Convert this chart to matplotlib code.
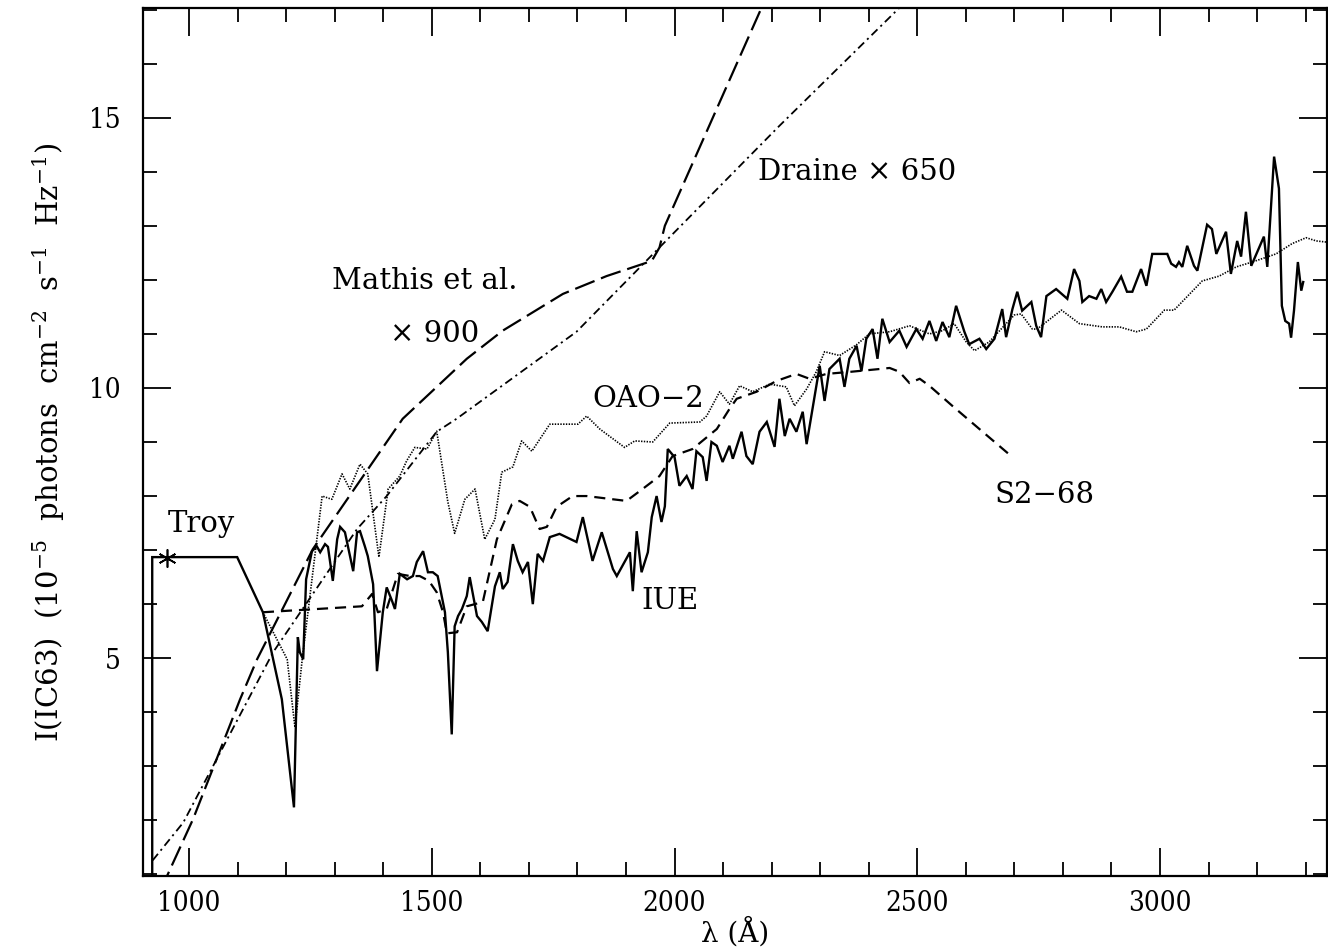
import matplotlib
matplotlib.use("Agg")
import matplotlib.pyplot as plt
from matplotlib.ticker import MultipleLocator

# ---------------- data ----------------
# IUE spectrum (solid) including the Troy plateau on the short-wavelength side
iue_wl = [924, 924, 1099, 1152, 1191, 1216, 1224, 1228, 1235, 1241, 1253, 1263, 1270,
          1280, 1286, 1296, 1305, 1311, 1321, 1338, 1346, 1352, 1362, 1368, 1379, 1387,
          1399, 1407, 1418, 1424, 1434, 1449, 1461, 1469, 1482, 1492, 1502, 1512, 1527,
          1533, 1541, 1547, 1554, 1562, 1572, 1578, 1593, 1603, 1615, 1630, 1640, 1646,
          1656, 1667, 1677, 1687, 1698, 1708, 1718, 1729, 1743, 1763, 1798, 1811, 1831,
          1850, 1873, 1881, 1908, 1914, 1922, 1932, 1945, 1953, 1963, 1973, 1980, 1986,
          2000, 2010, 2025, 2037, 2045, 2058, 2066, 2076, 2087, 2099, 2113, 2120, 2138,
          2148, 2161, 2175, 2190, 2206, 2216, 2227, 2237, 2251, 2264, 2272, 2284, 2299,
          2309, 2319, 2340, 2350, 2360, 2375, 2385, 2395, 2408, 2418, 2428, 2443, 2463,
          2478, 2498, 2511, 2525, 2539, 2552, 2566, 2580, 2597, 2607, 2628, 2642, 2659,
          2675, 2683, 2696, 2706, 2716, 2735, 2745, 2755, 2766, 2786, 2809, 2823, 2834,
          2840, 2854, 2869, 2879, 2889, 2902, 2920, 2932, 2943, 2961, 2972, 2984, 3015,
          3023, 3033, 3039, 3046, 3056, 3070, 3077, 3097, 3107, 3116, 3136, 3146, 3159,
          3167, 3177, 3188, 3214, 3221, 3235, 3245, 3251, 3258, 3266, 3270, 3276, 3284,
          3291, 3295]
iue_I = [0.5, 6.87, 6.87, 5.85, 4.24, 2.24, 5.39, 5.11, 4.98, 6.46, 6.98, 7.07, 6.96,
         7.11, 7.06, 6.43, 7.20, 7.43, 7.33, 6.61, 7.33, 7.35, 7.07, 6.89, 6.37, 4.76,
         5.85, 6.31, 6.06, 5.91, 6.56, 6.46, 6.52, 6.78, 6.98, 6.59, 6.59, 6.52, 5.85,
         5.11, 3.59, 5.59, 5.78, 5.91, 6.15, 6.50, 5.78, 5.67, 5.50, 6.33, 6.59, 6.28,
         6.41, 7.11, 6.80, 6.59, 6.78, 6.00, 6.93, 6.80, 7.24, 7.30, 7.15, 7.61, 6.80,
         7.33, 6.65, 6.52, 6.96, 6.24, 7.35, 6.59, 6.96, 7.61, 8.00, 7.52, 7.81, 8.87,
         8.72, 8.19, 8.37, 8.13, 8.83, 8.72, 8.28, 9.00, 8.93, 8.63, 8.93, 8.69, 9.19,
         8.74, 8.59, 9.19, 9.37, 8.91, 9.80, 9.11, 9.43, 9.19, 9.56, 8.96, 9.61, 10.41,
         9.76, 10.35, 10.54, 10.02, 10.54, 10.78, 10.31, 10.91, 11.09, 10.54, 11.28, 10.85, 11.06,
         10.76, 11.09, 10.91, 11.24, 10.87, 11.22, 10.94, 11.52, 11.04, 10.81, 10.91, 10.72, 10.91,
         11.46, 10.94, 11.46, 11.78, 11.43, 11.59, 11.15, 10.94, 11.70, 11.83, 11.65, 12.20, 11.98,
         11.59, 11.70, 11.65, 11.83, 11.59, 11.78, 12.06, 11.78, 11.78, 12.20, 11.89, 12.48, 12.48,
         12.30, 12.24, 12.33, 12.24, 12.63, 12.26, 12.17, 13.02, 12.94, 12.48, 12.89, 12.11, 12.72,
         12.43, 13.26, 12.26, 12.80, 12.24, 14.28, 13.69, 11.52, 11.24, 11.19, 10.93, 11.43, 12.33,
         11.80, 11.96]

# OAO-2 spectrum (dotted)
oao_wl = [1152, 1202, 1218, 1233, 1274, 1294, 1315, 1331, 1352, 1368, 1391, 1410, 1434,
          1448, 1465, 1490, 1510, 1533, 1547, 1568, 1589, 1609, 1630, 1644, 1667, 1685,
          1706, 1743, 1801, 1819, 1846, 1897, 1918, 1955, 1990, 2052, 2066, 2093, 2113,
          2134, 2161, 2196, 2230, 2247, 2272, 2292, 2309, 2340, 2375, 2401, 2443, 2484,
          2525, 2552, 2576, 2601, 2618, 2648, 2683, 2700, 2714, 2737, 2747, 2797, 2834,
          2881, 2916, 2951, 2972, 3009, 3029, 3087, 3122, 3157, 3190, 3239, 3272, 3301,
          3322, 3342]
oao_I = [5.85, 4.98, 3.72, 4.98, 8.00, 7.94, 8.41, 8.13, 8.59, 8.41, 6.87, 8.13, 8.37,
         8.65, 8.90, 8.87, 9.20, 7.89, 7.31, 7.94, 8.13, 7.20, 7.57, 8.44, 8.54, 9.02,
         8.83, 9.33, 9.33, 9.48, 9.24, 8.90, 9.02, 9.00, 9.35, 9.37, 9.48, 9.93, 9.70,
         10.04, 9.93, 10.07, 10.02, 9.67, 9.98, 10.30, 10.67, 10.60, 10.80, 11.00, 11.04, 11.15,
         11.00, 11.06, 11.19, 10.85, 10.69, 10.85, 11.19, 11.35, 11.37, 11.09, 11.09, 11.44, 11.19,
         11.13, 11.13, 11.04, 11.09, 11.44, 11.44, 11.98, 12.07, 12.24, 12.33, 12.48, 12.67, 12.78,
         12.72, 12.70]

# S2-68 spectrum (short dashes)
s2_wl = [1152, 1356, 1377, 1389, 1407, 1430, 1455, 1475, 1494, 1510, 1523, 1531, 1552,
         1572, 1605, 1634, 1665, 1681, 1702, 1722, 1737, 1757, 1790, 1819, 1873, 1901,
         1934, 1969, 1996, 2037, 2087, 2113, 2128, 2169, 2210, 2251, 2278, 2313, 2364,
         2422, 2443, 2463, 2484, 2505, 2525, 2572, 2628, 2696]
s2_I = [5.85, 5.96, 6.19, 5.85, 5.91, 6.56, 6.52, 6.52, 6.43, 6.22, 5.85, 5.46, 5.48,
        5.96, 6.04, 7.20, 7.85, 7.91, 7.80, 7.39, 7.43, 7.80, 8.00, 8.00, 7.94, 7.91,
        8.13, 8.37, 8.74, 8.87, 9.24, 9.61, 9.80, 9.93, 10.13, 10.26, 10.17, 10.26, 10.30,
        10.35, 10.37, 10.30, 10.09, 10.17, 10.04, 9.67, 9.24, 8.72]

# Mathis et al. x 900 (long dashes)
mathis_wl = [940, 955, 1008, 1105, 1140, 1255, 1440, 1572, 1646, 1770, 1860, 1953,
             1969, 1980, 2175, 2195]
mathis_I = [0.70, 0.98, 2.02, 4.24, 4.98, 7.02, 9.43, 10.54, 11.06, 11.74, 12.07, 12.35,
            12.60, 13.00, 16.95, 17.35]

# Draine x 650 (dash-dot)
draine_wl = [925, 988, 1173, 1346, 1407, 1510, 1551, 1798, 1969, 2216, 2465]
draine_I = [1.26, 1.96, 5.11, 7.39, 8.00, 9.19, 9.43, 11.04, 12.60, 14.85, 17.05]

# Troy point
troy_wl = [955]
troy_I = [6.85]

# axes
x_range = [905, 3344]
y_range = [0.97, 17.03]
x_ticks = [1000, 1500, 2000, 2500, 3000]
y_ticks = [5, 10, 15]

# ---------------- plot ----------------
plt.rcParams['font.family'] = ['DejaVu Serif']
plt.rcParams['mathtext.fontset'] = 'dejavuserif'
plt.rcParams['lines.scale_dashes'] = False

fig = plt.figure(figsize=(13.28, 9.47), dpi=100)
ax = fig.add_axes([143 / 1328, 1 - 876 / 947, (1327 - 143) / 1328, (876 - 8) / 947])

ax.plot(iue_wl, iue_I, color='black', lw=1.7, solid_joinstyle='miter')
ax.plot(oao_wl, oao_I, color='black', lw=1.2, linestyle=(0, (1.0, 1.0)))
ax.plot(s2_wl, s2_I, color='black', lw=1.6, linestyle=(0, (8, 5)))
ax.plot(mathis_wl, mathis_I, color='black', lw=1.6, linestyle=(0, (15, 5)))
ax.plot(draine_wl, draine_I, color='black', lw=1.3, linestyle=(0, (6, 3, 1.5, 3)))
ax.plot(troy_wl, troy_I, linestyle='none', marker=(6, 2, 0), markersize=13,
        markeredgewidth=1.2, color='black')

ax.set_xlim(*x_range)
ax.set_ylim(*y_range)

ax.set_xticks(x_ticks)
ax.set_yticks(y_ticks)
ax.xaxis.set_minor_locator(MultipleLocator(100))
ax.yaxis.set_minor_locator(MultipleLocator(1))
ax.tick_params(which='both', direction='in', top=True, right=True, width=1.3,
               labelsize=20)
ax.tick_params(which='major', length=20)
ax.tick_params(which='minor', length=10)
ax.tick_params(axis='x', which='major', pad=10)
ax.tick_params(axis='y', which='major', pad=16)
for lab in ax.get_xticklabels() + ax.get_yticklabels():
    lab.set_fontstretch('condensed')
for s in ax.spines.values():
    s.set_linewidth(1.6)

ax.set_xlabel('λ (Å)', fontsize=20, labelpad=0)
ax.set_ylabel(r'I(IC63)  (10$^{-5}$  photons  cm$^{-2}$  s$^{-1}$  Hz$^{-1}$)',
              fontsize=21, labelpad=16)

txt = dict(fontsize=21, color='black', ha='left', va='baseline')
ax.text(957, 7.33, 'Troy', **txt)
ax.text(1294, 11.83, 'Mathis et al.', **txt)
ax.text(1414, 10.85, '× 900', **txt)
ax.text(2171, 13.85, 'Draine × 650', **txt)
ax.text(1831, 9.65, 'OAO−2', **txt)
ax.text(1932, 5.91, 'IUE', **txt)
ax.text(2659, 7.87, 'S2−68', **txt)

fig.savefig('out.png', dpi=100)
